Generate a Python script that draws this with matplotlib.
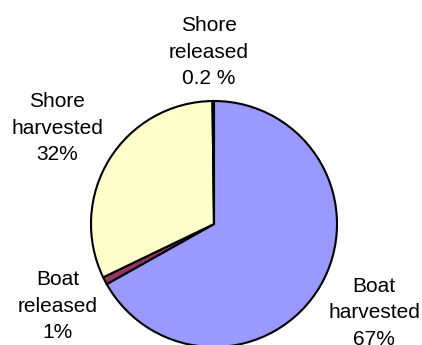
import matplotlib
matplotlib.use("Agg")
import matplotlib.pyplot as plt

# Catch breakdown, clockwise from 12 o'clock
categories = ["Boat\nharvested", "Boat\nreleased", "Shore\nharvested", "Shore\nreleased"]
shares = [67, 1, 32, 0.2]
share_labels = ["67%", "1%", "32%", "0.2 %"]
colors = ["#9999FF", "#993366", "#FFFFCC", "#CCFFFF"]

W, H = 422, 345
fig = plt.figure(figsize=(W / 100, H / 100), dpi=100)
ax = fig.add_axes([0, 0, 1, 1])
ax.set_xlim(0, W)
ax.set_ylim(0, H)
ax.set_aspect("equal")
ax.axis("off")

ax.pie(shares, colors=colors, startangle=90, counterclock=False,
       center=(214, H - 224), radius=123, normalize=True,
       wedgeprops=dict(edgecolor="black", linewidth=1.5))
ax.set_xlim(0, W)
ax.set_ylim(0, H)

# label anchor points (x, y from top)
label_pos = [(374, 313), (58, 306), (57, 128), (209, 52)]
for name, pct, (x, y) in zip(categories, share_labels, label_pos):
    ax.text(x, H - y, f"{name}\n{pct}", ha="center", va="center",
            fontsize=15, family="Liberation Sans", linespacing=1.52)

fig.savefig("out.png", dpi=100)
